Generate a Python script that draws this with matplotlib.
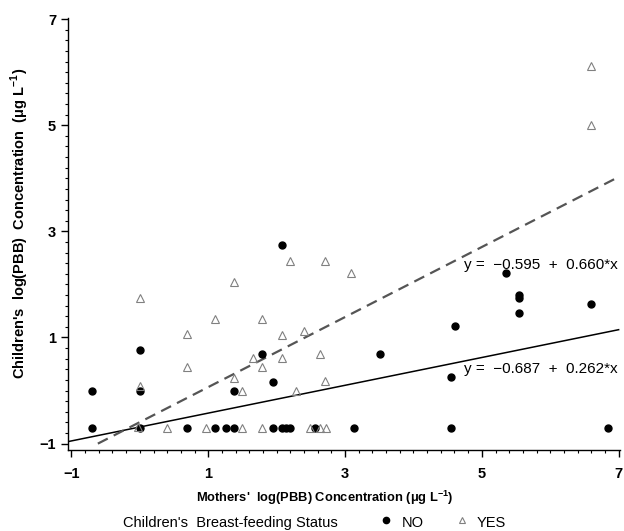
import numpy as np
import matplotlib
matplotlib.use('Agg')
from matplotlib import pyplot as plt
from matplotlib.lines import Line2D

## DATA
no_x = [-0.70, -0.70, 0.00, 0.00, 0.00, 0.69, 1.10, 1.26, 1.38, 1.38,
        1.79, 1.95, 1.95, 2.08, 2.08, 2.14, 2.20, 2.56, 3.13, 3.51,
        4.55, 4.55, 4.61, 5.35, 5.54, 5.54, 5.54, 6.59, 6.85]
no_y = [0.00, -0.70, 0.77, 0.00, -0.70, -0.70, -0.70, -0.70, -0.70, 0.00,
        0.68, 0.17, -0.70, 2.74, -0.70, -0.70, -0.70, -0.70, -0.70, 0.68,
        0.25, -0.70, 1.21, 2.21, 1.80, 1.75, 1.47, 1.64, -0.70]

yes_x = [-0.03, 0.00, 0.00, 0.40, 0.69, 0.69, 0.97, 1.10, 1.38, 1.38,
         1.49, 1.49, 1.66, 1.79, 1.79, 1.79, 2.08, 2.08, 2.20, 2.29,
         2.40, 2.49, 2.64, 2.64, 2.70, 2.70, 2.72, 3.09, 6.59, 6.59]
yes_y = [-0.68, 1.75, 0.08, -0.70, 1.07, 0.44, -0.70, 1.35, 2.04, 0.24,
         0.00, -0.70, 0.62, 1.35, 0.44, -0.70, 1.04, 0.62, 2.44, 0.00,
         1.13, -0.70, 0.68, -0.70, 2.44, 0.18, -0.70, 2.21, 6.12, 5.01]

fit_no = (-0.687, 0.262)    # solid line
fit_yes = (-0.595, 0.660)   # dashed line

ticks = [-1, 1, 3, 5, 7]
tick_labels = ['\u22121', '1', '3', '5', '7']
minor_ticks = np.arange(-1, 7.01, 0.2)

plt.rcParams['font.family'] = ['Liberation Sans', 'DejaVu Sans']
plt.rcParams['mathtext.fontset'] = 'custom'
plt.rcParams['mathtext.rm'] = 'Liberation Sans'
plt.rcParams['mathtext.bf'] = 'Liberation Sans:bold'

W, H = 624, 531
fig = plt.figure(figsize=(W / 100, H / 100), dpi=100)
ax = fig.add_axes([68 / W, 1 - 450 / H, 552 / W, 432 / H])

ax.plot(no_x, no_y, 'o', color='black', markersize=5, zorder=3)
ax.plot(yes_x, yes_y, '^', markerfacecolor='none', markeredgecolor='#808080',
        markeredgewidth=0.8, markersize=5.5, zorder=3)

# regression lines
xs = np.array([-1.05, 7.0])
ax.plot(xs, fit_no[0] + fit_no[1] * xs, color='black', linewidth=1.1, zorder=2)
x0 = (-1.0 - fit_yes[0]) / fit_yes[1]
xd = np.array([x0, 7.0])
ax.plot(xd, fit_yes[0] + fit_yes[1] * xd, color='#555555', linewidth=1.6,
        linestyle=(0, (5, 3)), zorder=2)

ax.text(6.99, 2.36, 'y =  \u22120.595  +  0.660*x', ha='right', va='center', fontsize=11)
ax.text(6.99, 0.40, 'y =  \u22120.687  +  0.262*x', ha='right', va='center', fontsize=11)

ax.set_xlim(-1.05, 7.02)
ax.set_ylim(-1.12, 7.02)
ax.set_xticks(ticks)
ax.set_yticks(ticks)
ax.set_xticks(minor_ticks, minor=True)
ax.set_yticks(minor_ticks, minor=True)
ax.set_xticklabels(tick_labels, fontweight='bold')
ax.set_yticklabels(tick_labels, fontweight='bold')
ax.tick_params(which='major', length=5, width=1, labelsize=10.5, direction='out')
ax.tick_params(axis='x', which='major', pad=7)
ax.tick_params(which='minor', length=2.5, width=0.8, direction='out')

for s in ['top', 'right']:
    ax.spines[s].set_visible(False)
for s in ['left', 'bottom']:
    ax.spines[s].set_linewidth(1)

ax.set_xlabel(r"Mothers'  log(PBB) Concentration ($\mathbf{\mu}$g L$^{\mathbf{-1}}$)",
              fontweight='bold', fontsize=9.3)
ax.xaxis.set_label_coords((325 - 68) / 552, -(498 - 450) / 432)
ax.set_ylabel(r"Children's  log(PBB)  Concentration  ($\mathbf{\mu}$g L$^{\mathbf{-1}}$)",
              fontweight='bold', fontsize=10.5)
ax.yaxis.set_label_coords(-(68 - 20) / 552, (450 - 223) / 432)
ax.xaxis.label.set_va('center')
ax.yaxis.label.set_va('center')

# legend row at the bottom
ly = 1 - 523 / H
fig.text(123 / W, ly, "Children's  Breast-feeding Status", ha='left', va='center',
         fontsize=10.5)
fig.add_artist(Line2D([386 / W], [ly + 3 / H], marker='o', linestyle='none',
                      color='black', markersize=4.5, transform=fig.transFigure))
fig.text(402 / W, ly, 'NO', ha='left', va='center', fontsize=10.5)
fig.add_artist(Line2D([462 / W], [ly + 3 / H], marker='^', linestyle='none',
                      markerfacecolor='none', markeredgecolor='#808080',
                      markeredgewidth=0.8, markersize=5, transform=fig.transFigure))
fig.text(477 / W, ly, 'YES', ha='left', va='center', fontsize=10.5)

fig.savefig('out.png', dpi=100)
